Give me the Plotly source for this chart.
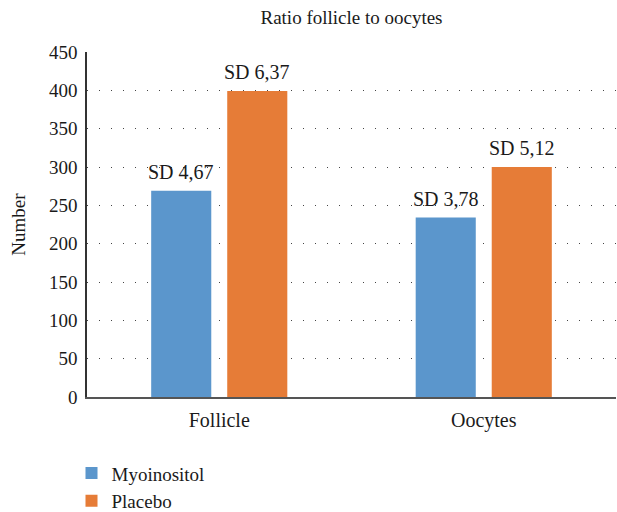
import plotly.graph_objects as go

categories = ["Follicle", "Oocytes"]
myo_values = [269, 234]
placebo_values = [399, 300]
myo_labels = ["SD 4,67", "SD 3,78"]
placebo_labels = ["SD 6,37", "SD 5,12"]
y_ticks = [0, 50, 100, 150, 200, 250, 300, 350, 400, 450]

FONT = "Liberation Serif, Times New Roman, serif"
BLUE = "#5B96CC"
ORANGE = "#E67C37"
TXT = "#1a1a1a"

fig = go.Figure()
fig.add_trace(go.Bar(name="Myoinositol", x=categories, y=myo_values,
                     marker=dict(color=BLUE, line=dict(width=0)), legendgroup="a"))
fig.add_trace(go.Bar(name="Placebo", x=categories, y=placebo_values,
                     marker=dict(color=ORANGE, line=dict(width=0)), legendgroup="b"))

off = 0.575 / 4
for i in range(len(categories)):
    for dx, vals, labs in ((-off, myo_values, myo_labels), (off, placebo_values, placebo_labels)):
        fig.add_annotation(x=i + dx, y=vals[i], text=labs[i], showarrow=False,
                           yanchor="bottom", yshift=6, xref="x", yref="y",
                           font=dict(family=FONT, size=20, color=TXT))

fig.update_layout(
    width=617, height=512,
    margin=dict(l=87, r=1, t=52, b=114.5, autoexpand=False),
    paper_bgcolor="white", plot_bgcolor="white",
    barmode="group", bargap=0.425, bargroupgap=0.21,
    font=dict(family=FONT, size=18, color=TXT),
    title=dict(text="Ratio follicle to oocytes", x=0.5, xanchor="center",
               xref="paper", yref="container",
               y=1 - 17 / 512, yanchor="middle", font=dict(family=FONT, size=19, color=TXT)),
    showlegend=True,
    legend=dict(orientation="v", x=-0.0293, xanchor="left", y=-0.166, yanchor="top",
                font=dict(family=FONT, size=19, color=TXT),
                tracegroupgap=10, bgcolor="rgba(0,0,0,0)", traceorder="normal"),
)
fig.update_yaxes(range=[0, 450], tickvals=y_ticks, showgrid=True, gridcolor="#444444",
                 griddash="1px,11px", gridwidth=1, showline=True, linecolor="#333333",
                 linewidth=1.5, zeroline=False, ticks="", ticklen=0, automargin=False,
                 ticklabelstandoff=4,
                 title=dict(text="Number", font=dict(family=FONT, size=19), standoff=18),
                 tickfont=dict(family=FONT, size=19))
fig.update_xaxes(showline=True, linecolor="#555555", linewidth=2, ticks="", automargin=False,
                 tickfont=dict(family=FONT, size=20), showgrid=False, ticklabelstandoff=4)

fig.write_html("out.html", config={"displayModeBar": False},
               post_script="document.body.style.margin='0';")
